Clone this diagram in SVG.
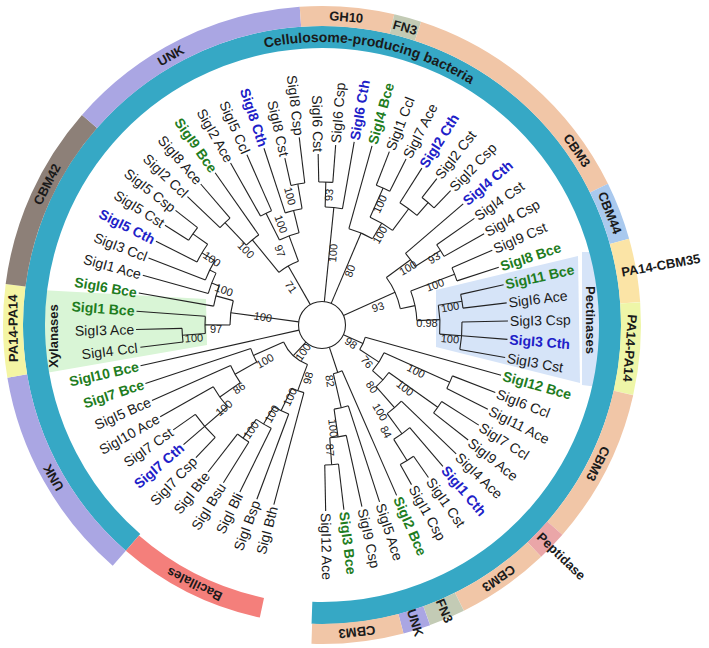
<svg xmlns="http://www.w3.org/2000/svg" width="709" height="648" viewBox="0 0 709 648">
<style>
.e{fill:none;stroke:#222;stroke-width:1.1}
.t{font-family:"Liberation Sans",Arial,sans-serif;font-size:14px;fill:#1a1a1a}
.g{fill:#1f7d1f;font-weight:bold}
.b{fill:#2020c8;font-weight:bold}
.r{text-anchor:end}
.s{font-family:"Liberation Sans",Arial,sans-serif;font-size:11px;fill:#222;text-anchor:middle}
.a{font-family:"Liberation Sans",Arial,sans-serif;font-weight:bold;font-size:13px;fill:#1a1a1a;text-anchor:middle}
.bd{fill:none;stroke-width:20}
</style>
<rect width="709" height="648" fill="#fff"/>
<g id="highlights">
<polygon points="40,290 206,299 207,345 40,374" fill="#d9f5d6"/>
<polygon points="436,290 578,256 580,383 436,347" fill="#d6e4f8"/>
<polygon points="582,252 606,252 606,388 582,385" fill="#d6e4f8"/>
</g>
<g id="rings" transform="translate(322,325)">
<circle r="288" fill="none" stroke="#36a8c5" stroke-width="22" pathLength="360" stroke-dasharray="321 400" transform="rotate(131)"/>
<circle r="289" fill="none" stroke="#f47f7b" stroke-width="20" pathLength="360" stroke-dasharray="29 400" transform="rotate(102)"/>
<circle r="309" class="bd" stroke="#aaa6e3" pathLength="360" stroke-dasharray="39.5 400" transform="rotate(131)"/>
<circle r="309" class="bd" stroke="#f4f5a4" pathLength="360" stroke-dasharray="16.9 400" transform="rotate(170.5)"/>
<circle r="309" class="bd" stroke="#8d8078" pathLength="360" stroke-dasharray="33.8 400" transform="rotate(187.4)"/>
<circle r="309" class="bd" stroke="#aaa6e3" pathLength="360" stroke-dasharray="44.8 400" transform="rotate(221.2)"/>
<circle r="309" class="bd" stroke="#f1c6a7" pathLength="360" stroke-dasharray="17.1 400" transform="rotate(266)"/>
<circle r="309" class="bd" stroke="#c3cbb5" pathLength="360" stroke-dasharray="5 400" transform="rotate(283.1)"/>
<circle r="309" class="bd" stroke="#f1c6a7" pathLength="360" stroke-dasharray="45.6 400" transform="rotate(288.1)"/>
<circle r="309" class="bd" stroke="#a9c9ee" pathLength="360" stroke-dasharray="10.6 400" transform="rotate(333.7)"/>
<circle r="309" class="bd" stroke="#fbe4a6" pathLength="360" stroke-dasharray="11.6 400" transform="rotate(344.3)"/>
<circle r="309" class="bd" stroke="#eef6a8" pathLength="360" stroke-dasharray="16.8 400" transform="rotate(355.9)"/>
<circle r="309" class="bd" stroke="#f1c6a7" pathLength="360" stroke-dasharray="28.4 400" transform="rotate(12.7)"/>
<circle r="309" class="bd" stroke="#eaa6a8" pathLength="360" stroke-dasharray="5.5 400" transform="rotate(41.1)"/>
<circle r="309" class="bd" stroke="#f1c6a7" pathLength="360" stroke-dasharray="17 400" transform="rotate(46.6)"/>
<circle r="309" class="bd" stroke="#c3cbb5" pathLength="360" stroke-dasharray="6.6 400" transform="rotate(63.6)"/>
<circle r="309" class="bd" stroke="#aaa6e3" pathLength="360" stroke-dasharray="5 400" transform="rotate(70.2)"/>
<circle r="309" class="bd" stroke="#f1c6a7" pathLength="360" stroke-dasharray="16.7 400" transform="rotate(75.2)"/>
</g>
<g id="ring-labels">
<path id="arcT" d="M180.5,79.9 A283,283 0 0,1 538.8,143.1" fill="none"/>
<text font-family="Liberation Sans,Arial,sans-serif" font-weight="bold" font-size="14" fill="#1a1a1a" text-anchor="middle"><textPath href="#arcT" startOffset="50%">Cellulosome-producing bacteria</textPath></text>
<g transform="translate(322,325)">
<text class="a" dy=".35em" transform="rotate(240.7) translate(309,0) rotate(90)">UNK</text>
<text class="a" dy=".35em" transform="rotate(207.1) translate(309,0) rotate(90)">CBM42</text>
<text class="a" dy=".35em" transform="rotate(179.4) translate(309,0) rotate(90)">PA14-PA14</text>
<text class="a" dy=".35em" transform="rotate(150.4) translate(309,0) rotate(90)">UNK</text>
<text class="a" dy=".35em" transform="rotate(274.5) translate(309,0) rotate(90)">GH10</text>
<text class="a" dy=".35em" transform="rotate(285.6) translate(309,0) rotate(90)">FN3</text>
<text class="a" dy=".35em" transform="rotate(325.6) translate(309,0) rotate(90)">CBM3</text>
<text class="a" dy=".35em" transform="rotate(338.7) translate(309,0) rotate(90)">CBM44</text>
<text class="a" dy=".35em" style="text-anchor:start" transform="rotate(-10) translate(304,0)">PA14-CBM35</text>
<text class="a" dy=".35em" transform="rotate(4.3) translate(309,0) rotate(90)">PA14-PA14</text>
<text class="a" dy=".35em" transform="rotate(26.7) translate(309,0) rotate(90)">CBM3</text>
<text class="a" dy=".35em" style="text-anchor:start" transform="rotate(44) translate(302,0)">Peptidase</text>
<text class="a" dy=".35em" transform="rotate(55.1) translate(309,0) rotate(90)">CBM3</text>
<text class="a" dy=".35em" transform="rotate(66.8) translate(311,0)">FN3</text>
<text class="a" dy=".35em" transform="rotate(72.6) translate(312,0)">UNK</text>
<text class="a" dy=".35em" transform="rotate(83.5) translate(309,0) rotate(90)">CBM3</text>
<text class="a" dy=".35em" font-size="15" transform="rotate(116.2) translate(289,0) rotate(90)">Bacillales</text>
</g>
<text class="a" font-size="14" dy=".35em" transform="translate(53,336) rotate(-90)">Xylanases</text>
<text class="a" font-size="14" dy=".35em" transform="translate(591,320) rotate(90)">Pectinases</text>
</g>
<g id="connectors" class="e" transform="translate(322,325)">
<circle r="23.5"/>
<line x1="23.5" x2="42" transform="rotate(133.17)"/>
<line x1="23.5" x2="186" transform="rotate(167.33)"/>
<line x1="23.5" x2="92" transform="rotate(187.7)"/>
<line x1="23.5" x2="68" transform="rotate(240.2)"/>
<line x1="23.5" x2="118" transform="rotate(275.75)"/>
<line x1="23.5" x2="100" transform="rotate(293)"/>
<line x1="23.5" x2="80" transform="rotate(335.92)"/>
<line x1="23.5" x2="45" transform="rotate(24.39)"/>
<line x1="23.5" x2="50" transform="rotate(71.63)"/>
<line x1="92" x2="117" transform="rotate(180.04)"/>
<line x1="92" x2="110" transform="rotate(195.35)"/>
<line x1="117" x2="186" transform="rotate(184.26)"/>
<line x1="117" x2="140" transform="rotate(175.82)"/>
<line x1="140" x2="183" transform="rotate(173)"/>
<line x1="140" x2="186" transform="rotate(178.63)"/>
<line x1="110" x2="186" transform="rotate(189.89)"/>
<line x1="110" x2="118" transform="rotate(200.8)"/>
<line x1="118" x2="186" transform="rotate(195.52)"/>
<line x1="118" x2="125" transform="rotate(206.08)"/>
<line x1="125" x2="186" transform="rotate(201.15)"/>
<line x1="125" x2="140" transform="rotate(211)"/>
<line x1="140" x2="186" transform="rotate(206.78)"/>
<line x1="140" x2="158" transform="rotate(215.23)"/>
<line x1="158" x2="186" transform="rotate(212.41)"/>
<line x1="158" x2="186" transform="rotate(218.04)"/>
<line x1="68" x2="110" transform="rotate(230.71)"/>
<line x1="68" x2="95" transform="rotate(249.72)"/>
<line x1="110" x2="141" transform="rotate(226.49)"/>
<line x1="110" x2="186" transform="rotate(234.93)"/>
<line x1="141" x2="186" transform="rotate(223.67)"/>
<line x1="141" x2="186" transform="rotate(229.3)"/>
<line x1="95" x2="125" transform="rotate(243.38)"/>
<line x1="95" x2="118" transform="rotate(256.05)"/>
<line x1="125" x2="186" transform="rotate(240.56)"/>
<line x1="125" x2="186" transform="rotate(246.19)"/>
<line x1="118" x2="186" transform="rotate(251.82)"/>
<line x1="118" x2="143" transform="rotate(260.27)"/>
<line x1="143" x2="171" transform="rotate(257.45)"/>
<line x1="143" x2="189" transform="rotate(263.08)"/>
<line x1="118" x2="143" transform="rotate(271.53)"/>
<line x1="118" x2="186" transform="rotate(279.97)"/>
<line x1="143" x2="171" transform="rotate(268.71)"/>
<line x1="143" x2="180.5" transform="rotate(274.34)"/>
<line x1="100" x2="186" transform="rotate(285.6)"/>
<line x1="100" x2="118" transform="rotate(300.39)"/>
<line x1="118" x2="150" transform="rotate(294.05)"/>
<line x1="118" x2="145" transform="rotate(306.72)"/>
<line x1="150" x2="186" transform="rotate(291.23)"/>
<line x1="150" x2="186" transform="rotate(296.86)"/>
<line x1="145" x2="186" transform="rotate(302.49)"/>
<line x1="145" x2="162" transform="rotate(310.94)"/>
<line x1="162" x2="186" transform="rotate(308.12)"/>
<line x1="162" x2="186" transform="rotate(313.75)"/>
<line x1="80" x2="110" transform="rotate(323.6)"/>
<line x1="80" x2="95" transform="rotate(348.24)"/>
<line x1="110" x2="186" transform="rotate(319.38)"/>
<line x1="110" x2="140" transform="rotate(327.83)"/>
<line x1="140" x2="186" transform="rotate(325.01)"/>
<line x1="140" x2="186" transform="rotate(330.64)"/>
<line x1="95" x2="142" transform="rotate(339.09)"/>
<line x1="95" x2="118" transform="rotate(357.39)"/>
<line x1="142" x2="186" transform="rotate(336.27)"/>
<line x1="142" x2="186" transform="rotate(341.9)"/>
<line x1="118" x2="142" transform="rotate(350.35)"/>
<line x1="118" x2="140" transform="rotate(4.42)"/>
<line x1="142" x2="186" transform="rotate(347.53)"/>
<line x1="142" x2="186" transform="rotate(353.16)"/>
<line x1="140" x2="186" transform="rotate(358.79)"/>
<line x1="140" x2="186" transform="rotate(4.42)"/>
<line x1="140" x2="186" transform="rotate(10.05)"/>
<line x1="45" x2="186" transform="rotate(15.68)"/>
<line x1="45" x2="68" transform="rotate(33.1)"/>
<line x1="68" x2="140" transform="rotate(24.13)"/>
<line x1="68" x2="82" transform="rotate(42.08)"/>
<line x1="140" x2="186" transform="rotate(21.31)"/>
<line x1="140" x2="186" transform="rotate(26.94)"/>
<line x1="82" x2="142" transform="rotate(35.39)"/>
<line x1="82" x2="110" transform="rotate(48.76)"/>
<line x1="142" x2="186" transform="rotate(32.57)"/>
<line x1="142" x2="186" transform="rotate(38.2)"/>
<line x1="110" x2="186" transform="rotate(43.83)"/>
<line x1="110" x2="135" transform="rotate(53.68)"/>
<line x1="135" x2="186" transform="rotate(49.46)"/>
<line x1="135" x2="160" transform="rotate(57.9)"/>
<line x1="160" x2="186" transform="rotate(55.09)"/>
<line x1="160" x2="183" transform="rotate(60.72)"/>
<line x1="50" x2="186" transform="rotate(66.35)"/>
<line x1="50" x2="85" transform="rotate(76.9)"/>
<line x1="85" x2="186" transform="rotate(71.98)"/>
<line x1="85" x2="113" transform="rotate(81.83)"/>
<line x1="113" x2="186" transform="rotate(77.61)"/>
<line x1="113" x2="140" transform="rotate(86.05)"/>
<line x1="140" x2="186" transform="rotate(83.24)"/>
<line x1="140" x2="186" transform="rotate(88.87)"/>
<line x1="42" x2="70" transform="rotate(110.26)"/>
<line x1="42" x2="75" transform="rotate(156.07)"/>
<line x1="70" x2="186" transform="rotate(105)"/>
<line x1="70" x2="95" transform="rotate(115.53)"/>
<line x1="95" x2="186" transform="rotate(110.5)"/>
<line x1="95" x2="115" transform="rotate(120.55)"/>
<line x1="115" x2="186" transform="rotate(116.2)"/>
<line x1="115" x2="138" transform="rotate(124.9)"/>
<line x1="138" x2="186" transform="rotate(122)"/>
<line x1="138" x2="186" transform="rotate(127.8)"/>
<line x1="75" x2="100" transform="rotate(150.44)"/>
<line x1="75" x2="186" transform="rotate(161.7)"/>
<line x1="100" x2="125" transform="rotate(144.81)"/>
<line x1="100" x2="186" transform="rotate(156.07)"/>
<line x1="125" x2="155" transform="rotate(139.18)"/>
<line x1="125" x2="186" transform="rotate(150.44)"/>
<line x1="155" x2="183" transform="rotate(133.55)"/>
<line x1="155" x2="183" transform="rotate(139.18)"/>
<line x1="155" x2="182" transform="rotate(144.81)"/>
<circle r="140" pathLength="360" stroke-dasharray="5.63 400" transform="rotate(173)"/>
<circle r="117" pathLength="360" stroke-dasharray="8.44 400" transform="rotate(175.82)"/>
<circle r="158" pathLength="360" stroke-dasharray="5.63 400" transform="rotate(212.41)"/>
<circle r="140" pathLength="360" stroke-dasharray="8.45 400" transform="rotate(206.78)"/>
<circle r="125" pathLength="360" stroke-dasharray="9.85 400" transform="rotate(201.15)"/>
<circle r="118" pathLength="360" stroke-dasharray="10.56 400" transform="rotate(195.52)"/>
<circle r="110" pathLength="360" stroke-dasharray="10.91 400" transform="rotate(189.89)"/>
<circle r="92" pathLength="360" stroke-dasharray="15.31 400" transform="rotate(180.04)"/>
<circle r="141" pathLength="360" stroke-dasharray="5.63 400" transform="rotate(223.67)"/>
<circle r="110" pathLength="360" stroke-dasharray="8.44 400" transform="rotate(226.49)"/>
<circle r="125" pathLength="360" stroke-dasharray="5.63 400" transform="rotate(240.56)"/>
<circle r="143" pathLength="360" stroke-dasharray="5.63 400" transform="rotate(257.45)"/>
<circle r="118" pathLength="360" stroke-dasharray="8.45 400" transform="rotate(251.82)"/>
<circle r="95" pathLength="360" stroke-dasharray="12.67 400" transform="rotate(243.38)"/>
<circle r="68" pathLength="360" stroke-dasharray="19.01 400" transform="rotate(230.71)"/>
<circle r="143" pathLength="360" stroke-dasharray="5.63 400" transform="rotate(268.71)"/>
<circle r="118" pathLength="360" stroke-dasharray="8.44 400" transform="rotate(271.53)"/>
<circle r="150" pathLength="360" stroke-dasharray="5.63 400" transform="rotate(291.23)"/>
<circle r="162" pathLength="360" stroke-dasharray="5.63 400" transform="rotate(308.12)"/>
<circle r="145" pathLength="360" stroke-dasharray="8.45 400" transform="rotate(302.49)"/>
<circle r="118" pathLength="360" stroke-dasharray="12.67 400" transform="rotate(294.05)"/>
<circle r="100" pathLength="360" stroke-dasharray="14.79 400" transform="rotate(285.6)"/>
<circle r="140" pathLength="360" stroke-dasharray="5.63 400" transform="rotate(325.01)"/>
<circle r="110" pathLength="360" stroke-dasharray="8.45 400" transform="rotate(319.38)"/>
<circle r="142" pathLength="360" stroke-dasharray="5.63 400" transform="rotate(336.27)"/>
<circle r="142" pathLength="360" stroke-dasharray="5.63 400" transform="rotate(347.53)"/>
<circle r="140" pathLength="360" stroke-dasharray="11.26 400" transform="rotate(358.79)"/>
<circle r="118" pathLength="360" stroke-dasharray="14.07 400" transform="rotate(350.35)"/>
<circle r="95" pathLength="360" stroke-dasharray="18.3 400" transform="rotate(339.09)"/>
<circle r="80" pathLength="360" stroke-dasharray="24.64 400" transform="rotate(323.6)"/>
<circle r="140" pathLength="360" stroke-dasharray="5.63 400" transform="rotate(21.31)"/>
<circle r="142" pathLength="360" stroke-dasharray="5.63 400" transform="rotate(32.57)"/>
<circle r="160" pathLength="360" stroke-dasharray="5.63 400" transform="rotate(55.09)"/>
<circle r="135" pathLength="360" stroke-dasharray="8.44 400" transform="rotate(49.46)"/>
<circle r="110" pathLength="360" stroke-dasharray="9.85 400" transform="rotate(43.83)"/>
<circle r="82" pathLength="360" stroke-dasharray="13.37 400" transform="rotate(35.39)"/>
<circle r="68" pathLength="360" stroke-dasharray="17.95 400" transform="rotate(24.13)"/>
<circle r="45" pathLength="360" stroke-dasharray="17.42 400" transform="rotate(15.68)"/>
<circle r="140" pathLength="360" stroke-dasharray="5.63 400" transform="rotate(83.24)"/>
<circle r="113" pathLength="360" stroke-dasharray="8.44 400" transform="rotate(77.61)"/>
<circle r="85" pathLength="360" stroke-dasharray="9.85 400" transform="rotate(71.98)"/>
<circle r="50" pathLength="360" stroke-dasharray="10.55 400" transform="rotate(66.35)"/>
<circle r="138" pathLength="360" stroke-dasharray="5.8 400" transform="rotate(122)"/>
<circle r="115" pathLength="360" stroke-dasharray="8.7 400" transform="rotate(116.2)"/>
<circle r="95" pathLength="360" stroke-dasharray="10.05 400" transform="rotate(110.5)"/>
<circle r="70" pathLength="360" stroke-dasharray="10.53 400" transform="rotate(105)"/>
<circle r="155" pathLength="360" stroke-dasharray="11.26 400" transform="rotate(133.55)"/>
<circle r="125" pathLength="360" stroke-dasharray="11.26 400" transform="rotate(139.18)"/>
<circle r="100" pathLength="360" stroke-dasharray="11.26 400" transform="rotate(144.81)"/>
<circle r="75" pathLength="360" stroke-dasharray="11.26 400" transform="rotate(150.44)"/>
<circle r="42" pathLength="360" stroke-dasharray="45.81 400" transform="rotate(110.26)"/>
</g>
<g id="bootstrap">
<text class="s" dy=".35em" transform="translate(263,317) rotate(10)">100</text>
<text class="s" dy=".35em" transform="translate(224,290) rotate(20)">100</text>
<text class="s" dy=".35em" transform="translate(216,329)">97</text>
<text class="s" dy=".35em" transform="translate(194,338) rotate(-4)">100</text>
<text class="s" dy=".35em" transform="translate(212,259) rotate(35)">100</text>
<text class="s" dy=".35em" transform="translate(246,250) rotate(45)">100</text>
<text class="s" dy=".35em" transform="translate(291,287) rotate(55)">71</text>
<text class="s" dy=".35em" transform="translate(280,251) rotate(70)">97</text>
<text class="s" dy=".35em" transform="translate(281,224) rotate(70)">100</text>
<text class="s" dy=".35em" transform="translate(290,196) rotate(75)">100</text>
<text class="s" dy=".35em" transform="translate(333,253) rotate(-85)">100</text>
<text class="s" dy=".35em" transform="translate(329,195) rotate(-85)">93</text>
<text class="s" dy=".35em" transform="translate(350,271) rotate(-70)">80</text>
<text class="s" dy=".35em" transform="translate(380,235) rotate(-60)">100</text>
<text class="s" dy=".35em" transform="translate(380,204) rotate(-65)">100</text>
<text class="s" dy=".35em" transform="translate(408,268) rotate(-30)">100</text>
<text class="s" dy=".35em" transform="translate(434,258) rotate(-30)">93</text>
<text class="s" dy=".35em" transform="translate(435,285) rotate(-20)">100</text>
<text class="s" dy=".35em" transform="translate(378,307) rotate(-18)">93</text>
<text class="s" dy=".35em" transform="translate(450,307) rotate(-10)">100</text>
<text class="s" dy=".35em" transform="translate(427,323)">0.98</text>
<text class="s" dy=".35em" transform="translate(450,339) rotate(5)">100</text>
<text class="s" dy=".35em" transform="translate(351,343) rotate(35)">98</text>
<text class="s" dy=".35em" transform="translate(367,362) rotate(50)">76</text>
<text class="s" dy=".35em" transform="translate(416,371) rotate(28)">100</text>
<text class="s" dy=".35em" transform="translate(405,388) rotate(38)">100</text>
<text class="s" dy=".35em" transform="translate(372,387) rotate(55)">80</text>
<text class="s" dy=".35em" transform="translate(380,412) rotate(60)">100</text>
<text class="s" dy=".35em" transform="translate(386,432) rotate(62)">84</text>
<text class="s" dy=".35em" transform="translate(330,381) rotate(82)">82</text>
<text class="s" dy=".35em" transform="translate(333,428) rotate(85)">100</text>
<text class="s" dy=".35em" transform="translate(330,450) rotate(87)">87</text>
<text class="s" dy=".35em" transform="translate(303,352) rotate(-55)">100</text>
<text class="s" dy=".35em" transform="translate(265,361) rotate(-30)">100</text>
<text class="s" dy=".35em" transform="translate(308,378) rotate(-75)">98</text>
<text class="s" dy=".35em" transform="translate(239,388) rotate(-35)">86</text>
<text class="s" dy=".35em" transform="translate(290,397) rotate(-65)">100</text>
<text class="s" dy=".35em" transform="translate(272,414) rotate(-60)">100</text>
<text class="s" dy=".35em" transform="translate(251,430) rotate(-55)">100</text>
<text class="s" dy=".35em" transform="translate(224,408) rotate(-40)">100</text>
</g>
<g id="leaves" class="t" transform="translate(322,325)">
<g id="leaf1"><text class="r" dy=".35em" transform="rotate(173) translate(186,0) rotate(180)">SigI4 Ccl</text></g>
<g id="leaf2"><text class="r" dy=".35em" transform="rotate(178.63) translate(188,0) rotate(180)">SigI3 Ace</text></g>
<g id="leaf3"><text class="r g" dy=".35em" transform="rotate(184.26) translate(188,0) rotate(180)">SigI1 Bce</text></g>
<g id="leaf4"><text class="r g" dy=".35em" transform="rotate(189.89) translate(188,0) rotate(180)">SigI6 Bce</text></g>
<g id="leaf5"><text class="r" dy=".35em" transform="rotate(195.52) translate(188,0) rotate(180)">SigI1 Ace</text></g>
<g id="leaf6"><text class="r" dy=".35em" transform="rotate(201.15) translate(188,0) rotate(180)">SigI3 Ccl</text></g>
<g id="leaf7"><text class="r b" dy=".35em" transform="rotate(206.78) translate(188,0) rotate(180)">SigI5 Cth</text></g>
<g id="leaf8"><text class="r" dy=".35em" transform="rotate(212.41) translate(188,0) rotate(180)">SigI5 Cst</text></g>
<g id="leaf9"><text class="r" dy=".35em" transform="rotate(218.04) translate(188,0) rotate(180)">SigI5 Csp</text></g>
<g id="leaf10"><text class="r" dy=".35em" transform="rotate(223.67) translate(188,0) rotate(180)">SigI2 Ccl</text></g>
<g id="leaf11"><text class="r" dy=".35em" transform="rotate(229.3) translate(188,0) rotate(180)">SigI8 Ace</text></g>
<g id="leaf12"><text class="r g" dy=".35em" transform="rotate(234.93) translate(188,0) rotate(180)">SigI9 Bce</text></g>
<g id="leaf13"><text class="r" dy=".35em" transform="rotate(240.56) translate(188,0) rotate(180)">SigI2 Ace</text></g>
<g id="leaf14"><text class="r" dy=".35em" transform="rotate(246.19) translate(188,0) rotate(180)">SigI5 Ccl</text></g>
<g id="leaf15"><text class="r b" dy=".35em" transform="rotate(251.82) translate(188,0) rotate(180)">SigI8 Cth</text></g>
<g id="leaf16"><text class="r" dy=".35em" transform="rotate(257.45) translate(173,0) rotate(180)">SigI8 Cst</text></g>
<g id="leaf17"><text class="r" dy=".35em" transform="rotate(263.08) translate(191,0) rotate(180)">SigI8 Csp</text></g>
<g id="leaf18"><text class="r" dy=".35em" transform="rotate(268.71) translate(173,0) rotate(180)">SigI6 Cst</text></g>
<g id="leaf19"><text dy=".35em" transform="rotate(274.34) translate(182.5,0)">SigI6 Csp</text></g>
<g id="leaf20"><text class="b" dy=".35em" transform="rotate(279.97) translate(188,0)">SigI6 Cth</text></g>
<g id="leaf21"><text class="g" dy=".35em" transform="rotate(285.6) translate(188,0)">SigI4 Bce</text></g>
<g id="leaf22"><text dy=".35em" transform="rotate(291.23) translate(188,0)">SigI1 Ccl</text></g>
<g id="leaf23"><text dy=".35em" transform="rotate(296.86) translate(188,0)">SigI7 Ace</text></g>
<g id="leaf24"><text class="b" dy=".35em" transform="rotate(302.49) translate(188,0)">SigI2 Cth</text></g>
<g id="leaf25"><text dy=".35em" transform="rotate(308.12) translate(188,0)">SigI2 Cst</text></g>
<g id="leaf26"><text dy=".35em" transform="rotate(313.75) translate(188,0)">SigI2 Csp</text></g>
<g id="leaf27"><text class="b" dy=".35em" transform="rotate(319.38) translate(188,0)">SigI4 Cth</text></g>
<g id="leaf28"><text dy=".35em" transform="rotate(325.01) translate(188,0)">SigI4 Cst</text></g>
<g id="leaf29"><text dy=".35em" transform="rotate(330.64) translate(188,0)">SigI4 Csp</text></g>
<g id="leaf30"><text dy=".35em" transform="rotate(336.27) translate(188,0)">SigI9 Cst</text></g>
<g id="leaf31"><text class="g" dy=".35em" transform="rotate(341.9) translate(188,0)">SigI8 Bce</text></g>
<g id="leaf32"><text class="g" dy=".35em" transform="rotate(347.53) translate(188,0)">SigI11 Bce</text></g>
<g id="leaf33"><text dy=".35em" transform="rotate(353.16) translate(188,0)">SigI6 Ace</text></g>
<g id="leaf34"><text dy=".35em" transform="rotate(358.79) translate(188,0)">SigI3 Csp</text></g>
<g id="leaf35"><text class="b" dy=".35em" transform="rotate(4.42) translate(188,0)">SigI3 Cth</text></g>
<g id="leaf36"><text dy=".35em" transform="rotate(10.05) translate(188,0)">SigI3 Cst</text></g>
<g id="leaf37"><text class="g" dy=".35em" transform="rotate(15.68) translate(188,0)">SigI12 Bce</text></g>
<g id="leaf38"><text dy=".35em" transform="rotate(21.31) translate(188,0)">SigI6 Ccl</text></g>
<g id="leaf39"><text dy=".35em" transform="rotate(26.94) translate(188,0)">SigI11 Ace</text></g>
<g id="leaf40"><text dy=".35em" transform="rotate(32.57) translate(188,0)">SigI7 Ccl</text></g>
<g id="leaf41"><text dy=".35em" transform="rotate(38.2) translate(188,0)">SigI9 Ace</text></g>
<g id="leaf42"><text dy=".35em" transform="rotate(43.83) translate(188,0)">SigI4 Ace</text></g>
<g id="leaf43"><text class="b" dy=".35em" transform="rotate(49.46) translate(188,0)">SigI1 Cth</text></g>
<g id="leaf44"><text dy=".35em" transform="rotate(55.09) translate(188,0)">SigI1 Cst</text></g>
<g id="leaf45"><text dy=".35em" transform="rotate(60.72) translate(185,0)">SigI1 Csp</text></g>
<g id="leaf46"><text class="g" dy=".35em" transform="rotate(66.35) translate(188,0)">SigI2 Bce</text></g>
<g id="leaf47"><text dy=".35em" transform="rotate(71.98) translate(188,0)">SigI5 Ace</text></g>
<g id="leaf48"><text dy=".35em" transform="rotate(77.61) translate(188,0)">SigI9 Csp</text></g>
<g id="leaf49"><text class="g" dy=".35em" transform="rotate(83.24) translate(188,0)">SigI3 Bce</text></g>
<g id="leaf50"><text dy=".35em" transform="rotate(88.87) translate(188,0)">SigI12 Ace</text></g>
<g id="leaf51"><text class="r" dy=".35em" transform="rotate(105) translate(188,0) rotate(180)">SigI Bth</text></g>
<g id="leaf52"><text class="r" dy=".35em" transform="rotate(110.5) translate(188,0) rotate(180)">SigI Bsp</text></g>
<g id="leaf53"><text class="r" dy=".35em" transform="rotate(116.2) translate(188,0) rotate(180)">SigI Bli</text></g>
<g id="leaf54"><text class="r" dy=".35em" transform="rotate(122) translate(188,0) rotate(180)">SigI Bsu</text></g>
<g id="leaf55"><text class="r" dy=".35em" transform="rotate(127.8) translate(188,0) rotate(180)">SigI Bte</text></g>
<g id="leaf56"><text class="r" dy=".35em" transform="rotate(133.55) translate(185,0) rotate(180)">SigI7 Csp</text></g>
<g id="leaf57"><text class="r b" dy=".35em" transform="rotate(139.18) translate(185,0) rotate(180)">SigI7 Cth</text></g>
<g id="leaf58"><text class="r" dy=".35em" transform="rotate(144.81) translate(184,0) rotate(180)">SigI7 Cst</text></g>
<g id="leaf59"><text class="r" dy=".35em" transform="rotate(150.44) translate(188,0) rotate(180)">SigI10 Ace</text></g>
<g id="leaf60"><text class="r" dy=".35em" transform="rotate(156.07) translate(188,0) rotate(180)">SigI5 Bce</text></g>
<g id="leaf61"><text class="r g" dy=".35em" transform="rotate(161.7) translate(188,0) rotate(180)">SigI7 Bce</text></g>
<g id="leaf62"><text class="r g" dy=".35em" transform="rotate(167.33) translate(188,0) rotate(180)">SigI10 Bce</text></g>
</g>
</svg>
